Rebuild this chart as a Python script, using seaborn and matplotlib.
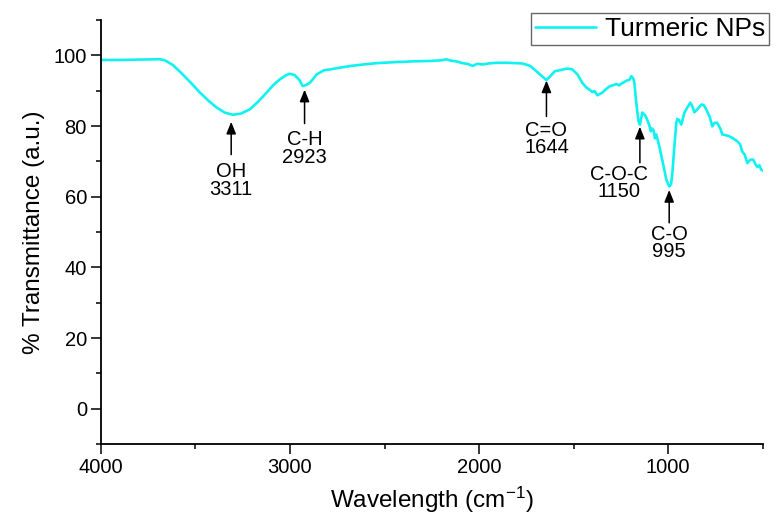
import numpy as np
import pandas as pd
import matplotlib
matplotlib.use("Agg")
import matplotlib.pyplot as plt
from matplotlib.ticker import MultipleLocator
from matplotlib.patches import ArrowStyle
import seaborn as sns

# ---- data ----
wavenumber = [4000, 3900, 3800, 3720, 3688, 3662, 3620, 3567, 3520, 3477, 3430, 3387,
              3345, 3303, 3260, 3213, 3170, 3123, 3090, 3054, 3020, 3002, 2975, 2950,
              2933, 2915, 2896, 2878, 2859, 2820, 2790, 2737, 2680, 2616, 2540, 2436,
              2350, 2262, 2200, 2172, 2150, 2119, 2090, 2060, 2035, 2010, 1982, 1950,
              1908, 1850, 1771, 1730, 1697, 1670, 1644, 1620, 1600, 1575, 1540, 1522,
              1507, 1480, 1454, 1435, 1417, 1400, 1390, 1375, 1360, 1348, 1330, 1311,
              1290, 1274, 1260, 1248, 1221, 1205, 1195, 1185, 1179, 1169, 1158, 1150,
              1137, 1125, 1116, 1100, 1092, 1086, 1078, 1070, 1063, 1047, 1030, 1010,
              995, 985, 978, 968, 957, 952, 945, 931, 915, 900, 883, 872, 862, 845,
              825, 812, 799, 780, 767, 755, 741, 725, 714, 695, 677, 660, 635, 620,
              609, 595, 582, 565, 551, 540, 529, 518, 508, 500]
transmittance = [98.7, 98.7, 98.8, 98.9, 98.9, 98.6, 97.3, 94.6, 92.0, 89.5, 87.1, 85.2,
                 83.8, 83.2, 83.5, 84.7, 86.8, 89.5, 91.5, 93.2, 94.4, 94.8, 94.4, 93.0,
                 91.3, 91.6, 92.2, 93.3, 94.6, 95.8, 96.0, 96.5, 97.0, 97.4, 97.8, 98.1,
                 98.3, 98.4, 98.6, 98.9, 98.5, 98.3, 97.8, 97.6, 97.0, 97.6, 97.4, 97.7,
                 97.9, 97.9, 97.7, 97.0, 95.5, 94.2, 93.0, 94.3, 95.5, 95.8, 96.2, 96.2,
                 96.0, 94.6, 92.2, 91.0, 90.3, 89.6, 89.9, 88.7, 89.1, 89.5, 90.4, 91.2,
                 91.6, 91.9, 91.5, 92.0, 92.8, 93.1, 94.1, 93.5, 92.2, 86.6, 81.5, 80.4,
                 83.8, 83.2, 82.4, 80.2, 78.5, 79.3, 78.8, 76.5, 77.6, 74.2, 70.0, 64.8,
                 62.9, 63.5, 66.8, 74.0, 81.0, 82.0, 81.8, 80.4, 83.7, 85.2, 86.6, 85.5,
                 83.9, 84.8, 86.1, 85.9, 84.7, 82.5, 79.9, 80.9, 80.9, 79.3, 77.6, 77.4,
                 77.1, 76.6, 75.7, 74.8, 72.8, 71.8, 69.5, 70.5, 70.5, 69.3, 68.4, 68.9,
                 67.6, 67.4]

series_name = "Turmeric NPs"

# annotation labels and the band positions they point to
band_names = ["OH", "C-H", "C=O", "C-O-C", "C-O"]
band_values = [3311, 2923, 1644, 1150, 995]

x_ticks = [4000, 3000, 2000, 1000]
y_ticks = [0, 20, 40, 60, 80, 100]

# ---- layout of annotations: arrow tip, arrow tail, text x, baseline of last line ----
arrow_tip = [81.2, 90.3, 92.9, 79.8, 61.9]
arrow_tail = [71.9, 80.7, 82.7, 69.6, 52.6]
text_x = [3311, 2923, 1644, 1262, 995]
text_base = [60.6, 69.6, 72.3, 59.9, 42.9]

sns.set_style("ticks")
plt.rcParams["font.family"] = ["Liberation Sans", "DejaVu Sans"]
plt.rcParams["mathtext.fontset"] = "custom"
plt.rcParams["mathtext.rm"] = "Liberation Sans"
plt.rcParams["mathtext.it"] = "Liberation Sans"
for k in ["text.color", "axes.labelcolor", "xtick.color", "ytick.color",
          "xtick.labelcolor", "ytick.labelcolor", "axes.edgecolor"]:
    plt.rcParams[k] = "black"

fig = plt.figure(figsize=(7.76, 5.16), dpi=100)
ax = fig.add_axes([0.130, 0.1395, 0.853, 0.8217])

df = pd.DataFrame({"w": wavenumber, "t": transmittance})
line_color = "#10F2F2"
sns.lineplot(data=df, x="w", y="t", ax=ax, color=line_color, lw=1.9,
             sort=False, label=series_name, legend=False)

ax.set_xlim(4000, 500)
ax.set_ylim(-10, 110)
ax.set_xticks(x_ticks)
ax.set_yticks(y_ticks)
ax.xaxis.set_minor_locator(MultipleLocator(500))
ax.yaxis.set_minor_locator(MultipleLocator(10))
ax.tick_params(axis="both", which="major", direction="out", length=7, width=1.1,
               labelsize=14.5, color="black", labelcolor="black", pad=3)
ax.tick_params(axis="both", which="minor", direction="out", length=3.5, width=1.1,
               color="black")
for s in ["top", "right"]:
    ax.spines[s].set_visible(False)
for s in ["left", "bottom"]:
    ax.spines[s].set_linewidth(1.3)
    ax.spines[s].set_color("black")

ax.set_xlabel("Wavelength (cm$^{\\mathregular{-1}}$)", fontsize=17.5, labelpad=6)
ax.set_ylabel("% Transmittance (a.u.)", fontsize=17.5, labelpad=6)

style = ArrowStyle("-|>", head_length=0.72, head_width=0.29)
for i, (name, val) in enumerate(zip(band_names, band_values)):
    ax.annotate("", xy=(val, arrow_tip[i]), xytext=(val, arrow_tail[i]),
                arrowprops=dict(arrowstyle=style, color="black", lw=1.1,
                                mutation_scale=10, shrinkA=0, shrinkB=0))
    ax.text(text_x[i], text_base[i], f"{name}\n{val}", ha="center", va="baseline",
            multialignment="center", fontsize=14.5, linespacing=0.9)

leg = fig.legend(loc="upper left", bbox_to_anchor=(531 / 776, 1 - 13 / 516),
                 fontsize=19, frameon=True, fancybox=False, borderpad=0.15,
                 handlelength=2.3, handletextpad=0.35, borderaxespad=0)
leg.get_frame().set_edgecolor("#404040")
leg.get_frame().set_linewidth(1.0)
for h in leg.get_lines():
    h.set_linewidth(1.9)

fig.savefig("out.png", dpi=100)
